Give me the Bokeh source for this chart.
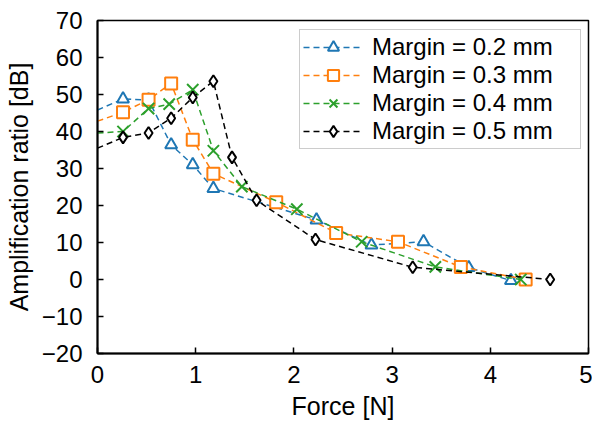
from bokeh.plotting import figure
from bokeh.models import FixedTicker, Range1d, Legend, LegendItem
from bokeh.embed import file_html
from bokeh.resources import INLINE

# Data (Force [N], Amplification ratio [dB])
F02 = [0, 0.26, 0.52, 0.75, 0.97, 1.18, 2.23, 2.79, 3.32, 3.78, 4.21]
A02 = [45.8, 48.8, 48.5, 36.4, 31.0, 24.6, 16.1, 9.3, 10.2, 3.2, -0.3]
F03 = [0, 0.26, 0.52, 0.75, 0.97, 1.18, 1.82, 2.43, 3.06, 3.70, 4.36]
A03 = [42.8, 45.2, 48.6, 53.0, 37.8, 28.6, 20.9, 12.6, 10.2, 3.4, 0.0]
F04 = [0, 0.26, 0.52, 0.73, 0.97, 1.18, 1.47, 2.03, 2.69, 3.44, 4.31]
A04 = [39.6, 40.0, 46.2, 47.4, 51.3, 34.8, 25.1, 19.0, 10.2, 3.4, 0.0]
F05 = [0, 0.26, 0.52, 0.75, 0.97, 1.18, 1.37, 1.62, 2.22, 3.21, 4.61]
A05 = [35.5, 38.4, 39.6, 43.6, 49.2, 53.6, 33.0, 21.4, 10.8, 3.3, 0.0]

labels = ["Margin = 0.2 mm", "Margin = 0.3 mm", "Margin = 0.4 mm", "Margin = 0.5 mm"]
colors = ["#1f77b4", "#ff7f0e", "#2ca02c", "#000000"]
markers = ["triangle", "square", "x", "diamond"]
msizes = [12, 12, 16, 12]
series = [(F02, A02), (F03, A03), (F04, A04), (F05, A05)]

x_ticks = [0, 1, 2, 3, 4, 5]
y_ticks = [-20, -10, 0, 10, 20, 30, 40, 50, 60, 70]

FONT = "Liberation Sans"

p = figure(width=592, height=427, output_backend="svg", toolbar_location=None,
           x_range=Range1d(0, 5), y_range=Range1d(-20, 70),
           min_border_left=97, min_border_right=4, min_border_top=20, min_border_bottom=74)
p.grid.visible = False
p.outline_line_color = "black"
p.outline_line_width = 1.5
p.background_fill_color = "white"

for ax in (p.xaxis[0], p.yaxis[0]):
    ax.axis_line_color = "black"
    ax.axis_line_width = 2
    ax.major_tick_in = 6
    ax.major_tick_out = 0
    ax.major_tick_line_width = 1.5
    ax.minor_tick_line_color = None
    ax.major_label_text_font = FONT
    ax.major_label_text_font_size = "24px"
    ax.major_label_text_color = "black"
    ax.axis_label_text_font = FONT
    ax.axis_label_text_font_size = "25px"
    ax.axis_label_text_font_style = "normal"
    ax.axis_label_text_color = "black"

p.xaxis.ticker = FixedTicker(ticks=x_ticks)
p.yaxis.ticker = FixedTicker(ticks=y_ticks)
p.yaxis.major_label_overrides = {t: ("\u2212" + str(-t) if t < 0 else str(t)) for t in y_ticks}
p.xaxis.axis_label = "Force [N]"
p.yaxis.axis_label = "Amplification ratio [dB]"
p.xaxis.major_label_standoff = 12
p.yaxis.major_label_standoff = 15
p.xaxis.axis_label_standoff = 6
p.yaxis.axis_label_standoff = 6

items = []
for (fx, ay), lab, c, m, s in zip(series, labels, colors, markers, msizes):
    ln = p.line(fx, ay, line_color=c, line_width=1.5, line_dash="6 4")
    sc = p.scatter(fx[1:], ay[1:], marker=m, size=s, line_color=c, line_width=2,
                   fill_color="white")
    items.append(LegendItem(label=lab, renderers=[ln, sc]))

legend = Legend(items=items, location=(202, 204))
legend.label_text_font = FONT
legend.label_text_font_size = "24px"
legend.label_text_color = "black"
legend.glyph_width = 60
legend.glyph_height = 28
legend.label_height = 28
legend.label_width = 205
legend.label_standoff = 9
legend.spacing = 0
legend.padding = 3
legend.margin = 0
legend.border_line_color = "#999999"
legend.border_line_width = 1.5
legend.background_fill_alpha = 1.0
p.add_layout(legend, "center")

open("out.html", "w").write(file_html(p, INLINE))
